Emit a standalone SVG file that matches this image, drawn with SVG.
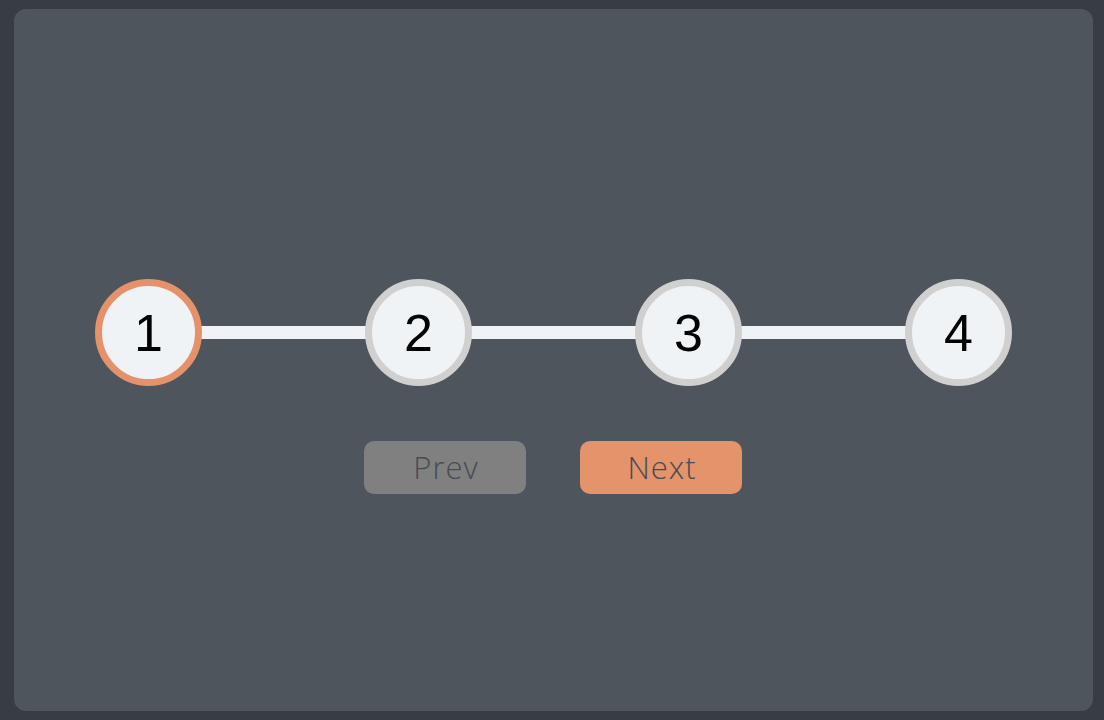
<svg xmlns="http://www.w3.org/2000/svg" width="1104" height="720" viewBox="0 0 1104 720">
<style>
.step circle{fill:#eff3f6;stroke:#d0d0d0;stroke-width:7}
.step.active circle{stroke:#e5926b}
.num{font-family:"Liberation Sans",Arial,sans-serif;font-size:52px;fill:#000;text-anchor:middle}
.btn text{font-family:"Open Sans","Noto Sans",sans-serif;font-weight:300;font-size:31px;letter-spacing:1px;fill:#474c54;text-anchor:middle}
.conn{stroke:#eff3f6;stroke-width:13}
</style>
<rect x="0" y="0" width="1104" height="720" fill="#383c44"/>
<rect x="14" y="9" width="1079" height="702" rx="12" fill="#4f555d"/>
<g id="connectors">
<line class="conn" x1="198" y1="332.5" x2="368" y2="332.5"/>
<line class="conn" x1="468" y1="332.5" x2="638" y2="332.5"/>
<line class="conn" x1="738" y1="332.5" x2="908" y2="332.5"/>
</g>
<g id="step1" class="step active"><circle cx="148.5" cy="332.5" r="50"/><text class="num" x="148.5" y="351">1</text></g>
<g id="step2" class="step"><circle cx="418.5" cy="332.5" r="50"/><text class="num" x="418.5" y="351">2</text></g>
<g id="step3" class="step"><circle cx="688.5" cy="332.5" r="50"/><text class="num" x="688.5" y="351">3</text></g>
<g id="step4" class="step"><circle cx="958.5" cy="332.5" r="50"/><text class="num" x="958.5" y="351">4</text></g>
<g id="prev" class="btn"><rect x="364" y="441" width="162" height="53" rx="10" fill="#808080"/><text x="446" y="479">Prev</text></g>
<g id="next" class="btn"><rect x="580" y="441" width="162" height="53" rx="10" fill="#e4936b"/><text x="662" y="479">Next</text></g>
</svg>
